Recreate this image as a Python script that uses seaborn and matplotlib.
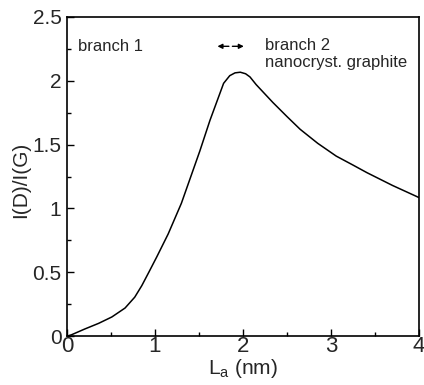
import matplotlib
matplotlib.use('Agg')
import matplotlib.pyplot as plt
from matplotlib.ticker import MultipleLocator, FormatStrFormatter
import pandas as pd
import seaborn as sns

# curve
la_nm = [0.0, 0.05, 0.2, 0.36, 0.51, 0.66, 0.77, 0.85, 0.93, 1.02, 1.15, 1.3,
         1.51, 1.625, 1.78, 1.85, 1.91, 1.97, 2.03, 2.08, 2.15, 2.34, 2.5, 2.65,
         2.85, 3.06, 3.25, 3.41, 3.7, 3.97, 4.0]
ratio = [0.0, 0.01, 0.055, 0.1, 0.15, 0.22, 0.305, 0.395, 0.5, 0.62, 0.8, 1.04,
         1.45, 1.69, 1.98, 2.04, 2.062, 2.067, 2.055, 2.03, 1.97, 1.83, 1.72,
         1.62, 1.51, 1.41, 1.34, 1.28, 1.18, 1.095, 1.085]

df = pd.DataFrame({"La": la_nm, "ratio": ratio})

sns.set_style("ticks")
plt.rcParams["font.family"] = ["Liberation Sans", "DejaVu Sans"]

fig = plt.figure(figsize=(4.24, 3.85), dpi=100)
ax = fig.add_axes([0.158, 0.127, 0.830, 0.829])

sns.lineplot(data=df, x="La", y="ratio", ax=ax, color="black", linewidth=1.1)

ax.set_xlim(0, 4)
ax.set_ylim(0, 2.5)
ax.xaxis.set_major_locator(MultipleLocator(1))
ax.xaxis.set_minor_locator(MultipleLocator(0.5))
ax.yaxis.set_major_locator(MultipleLocator(0.5))
ax.yaxis.set_minor_locator(MultipleLocator(0.25))
ax.yaxis.set_major_formatter(FormatStrFormatter("%g"))
ax.tick_params(which="both", direction="in", top=False, right=False,
               width=1, color="black")
ax.tick_params(axis="y", which="major", length=5, pad=4, labelsize=15)
ax.tick_params(axis="x", which="major", length=5, pad=0, labelsize=16)
ax.tick_params(which="minor", length=3)
for s in ax.spines.values():
    s.set_visible(True)
    s.set_linewidth(1.2)
    s.set_color("black")

ax.set_xlabel("L$_\\mathregular{a}$ (nm)", fontsize=15, labelpad=0)
ax.set_ylabel("I(D)/I(G)", fontsize=15)
ax.yaxis.set_label_coords(-0.105, 0.49)

ax.text(0.125, 2.27, "branch 1", fontsize=12, va="center", ha="left")
ax.text(2.25, 2.28, "branch 2", fontsize=12, va="center", ha="left")
ax.text(2.25, 2.14, "nanocryst. graphite", fontsize=12, va="center", ha="left")
ax.annotate("", xy=(1.71, 2.27), xytext=(1.84, 2.27),
            arrowprops=dict(arrowstyle="-|>", color="black", lw=1,
                            mutation_scale=7, shrinkA=0, shrinkB=0))
ax.annotate("", xy=(2.01, 2.27), xytext=(1.88, 2.27),
            arrowprops=dict(arrowstyle="-|>", color="black", lw=1,
                            mutation_scale=7, shrinkA=0, shrinkB=0))

fig.savefig("out.png", dpi=100)
